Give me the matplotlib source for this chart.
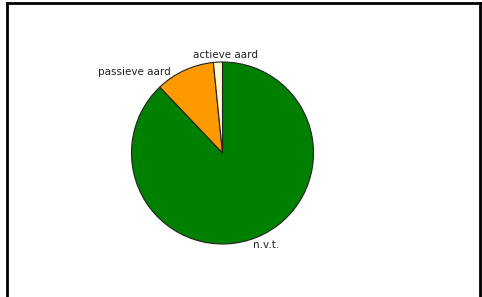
import matplotlib
matplotlib.use("Agg")
import matplotlib.pyplot as plt

labels = ["n.v.t.", "passieve aard", "actieve aard"]
values = [87.9, 10.5, 1.6]
colors = ["#008000", "#ff9900", "#fffacd"]

W, H = 482, 297
fig = plt.figure(figsize=(W / 100, H / 100), dpi=100)
fig.patch.set_facecolor("white")

# outer frame (top, left, right; bottom cut off)
fig.add_artist(plt.Line2D([7 / W, 7 / W], [0, 1 - 3 / H], transform=fig.transFigure, color="black", lw=2))
fig.add_artist(plt.Line2D([480 / W, 480 / W], [0, 1 - 3 / H], transform=fig.transFigure, color="black", lw=2))
fig.add_artist(plt.Line2D([7 / W, 480 / W], [1 - 3 / H, 1 - 3 / H], transform=fig.transFigure, color="black", lw=2))

cx, cy, r = 222.5, 153, 91
ax = fig.add_axes([(cx - r) / W, 1 - (cy + r) / H, 2 * r / W, 2 * r / H])
wedges, texts = ax.pie(values, colors=colors, startangle=90, counterclock=False,
                       labels=labels, labeldistance=1.08,
                       wedgeprops=dict(edgecolor="#222222", linewidth=0.8),
                       textprops=dict(fontsize=7.5, color="#222222"))
ax.set_aspect("equal")
ax.set_xlim(-1, 1)
ax.set_ylim(-1, 1)

# label placement as in the reference
label_pos = [(0.335, -1.016, "left"), (-0.566, 0.89, "right"), (-0.324, 1.082, "left")]
for t, (x, y, ha) in zip(texts, label_pos):
    t.set_position((x, y))
    t.set_ha(ha)
    t.set_va("center")

fig.savefig("out.png", dpi=100, facecolor="white")
